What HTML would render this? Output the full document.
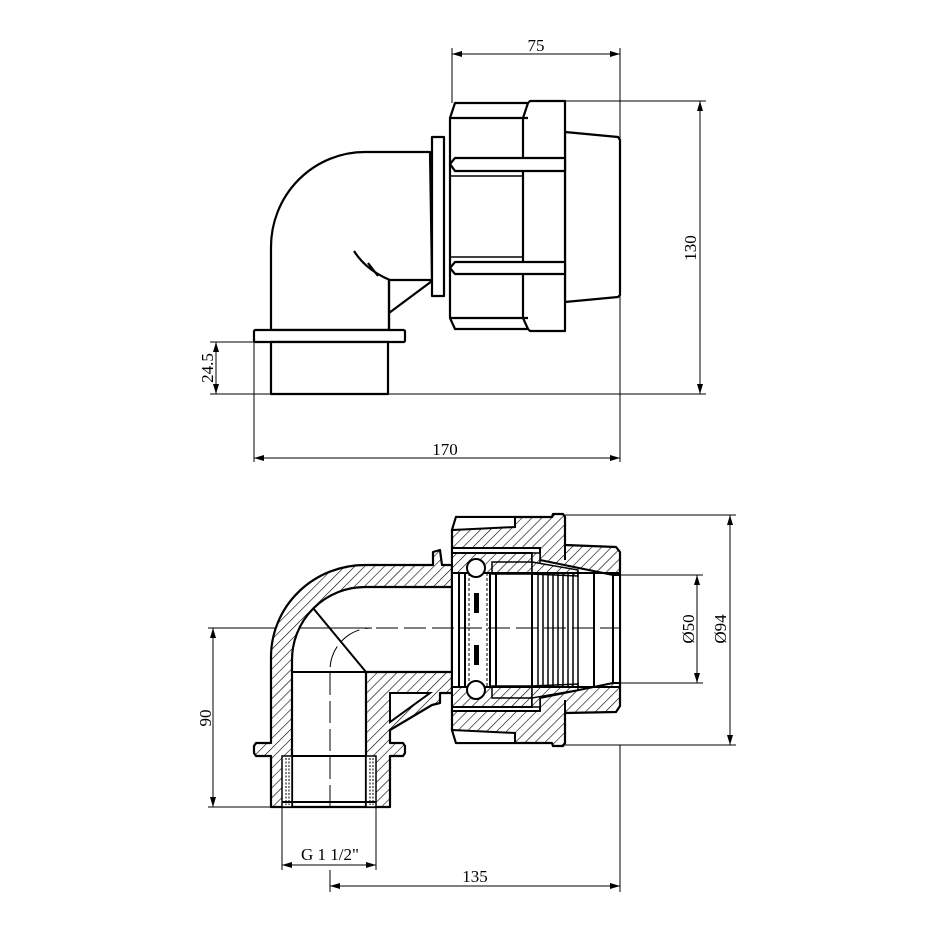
<!DOCTYPE html>
<html><head><meta charset="utf-8"><style>
html,body{margin:0;padding:0;background:#fff}
svg{display:block}
text{font-family:"Liberation Serif",serif;font-size:17px;fill:#000}
</style></head><body>
<svg width="930" height="930" viewBox="0 0 930 930" xmlns="http://www.w3.org/2000/svg">
<defs>
<pattern id="h" patternUnits="userSpaceOnUse" width="7" height="7" patternTransform="rotate(45)">
<rect width="7" height="7" fill="#fff"/><line x1="0" y1="0" x2="0" y2="7" stroke="#000" stroke-width="1.2"/>
</pattern>
<marker id="a" viewBox="0 0 10 6" refX="10" refY="3" markerWidth="10" markerHeight="6" orient="auto-start-reverse" markerUnits="userSpaceOnUse"><path d="M0,0 L10,3 L0,6 Z" fill="#000"/></marker>
</defs>

<!-- ========== TOP VIEW ========== -->
<g fill="none" stroke="#000" stroke-width="1">
<!-- dims -->
<line x1="452" y1="48" x2="452" y2="103"/><line x1="620" y1="48" x2="620" y2="462"/>
<line x1="452" y1="54" x2="620" y2="54" marker-start="url(#a)" marker-end="url(#a)"/>
<line x1="565" y1="101" x2="706" y2="101"/><line x1="388" y1="394" x2="706" y2="394"/>
<line x1="700" y1="101" x2="700" y2="394" marker-start="url(#a)" marker-end="url(#a)"/>
<line x1="210" y1="342" x2="254" y2="342"/><line x1="210" y1="394" x2="271" y2="394"/>
<line x1="216" y1="342" x2="216" y2="394" marker-start="url(#a)" marker-end="url(#a)"/>
<line x1="254" y1="342" x2="254" y2="462"/>
<line x1="254" y1="458" x2="620" y2="458" marker-start="url(#a)" marker-end="url(#a)"/>
</g>
<text x="536" y="51" text-anchor="middle">75</text>
<text x="445" y="455" text-anchor="middle">170</text>
<text transform="translate(696,248) rotate(-90)" text-anchor="middle">130</text>
<text transform="translate(213,368) rotate(-90)" text-anchor="middle">24.5</text>

<g fill="#fff" stroke="#000" stroke-width="2.2" stroke-linejoin="round">
<path d="M271,330 L271,247 A94,95 0 0 1 365,152 L430,152 L432,280 L389,280 L389,330 Z"/>
<rect x="254" y="330" width="151" height="12" rx="1.5"/>
<rect x="271" y="342" width="117" height="52"/>
<path d="M354,251 Q366,270 390,280 M389,280 L389,330 M389,313 L432,281 M368,263 L378,276"/>
<rect x="432" y="137" width="12" height="159"/>
<path d="M565,132 L618,137 L620,140 L620,295 L618,297 L565,302 Z"/>
<path d="M530,101 L565,101 L565,331 L530,331 L528,329 L455,329 L450,318 L450,118 L455,103 L528,103 Z"/>
<path d="M450,118 L528,118 M450,318 L528,318 M523,118 L523,318 M528,103 L523,118 M528,329 L523,318"/>
<path d="M455,158 L565,158 L565,171 L455,171 L450,164 Z"/>
<path d="M455,262 L565,262 L565,274 L455,274 L450,268 Z"/>
<path d="M450,176 L523,176 M450,257 L523,257" stroke-width="1.5"/>
</g>

<!-- ========== BOTTOM VIEW ========== -->
<g fill="none" stroke="#000" stroke-width="1">
<line x1="565" y1="515" x2="736" y2="515"/><line x1="565" y1="745" x2="736" y2="745"/>
<line x1="730" y1="515" x2="730" y2="745" marker-start="url(#a)" marker-end="url(#a)"/>
<line x1="610" y1="575" x2="703" y2="575"/><line x1="610" y1="683" x2="703" y2="683"/>
<line x1="697" y1="575" x2="697" y2="683" marker-start="url(#a)" marker-end="url(#a)"/>
<line x1="208" y1="628" x2="365" y2="628"/><line x1="208" y1="807" x2="271" y2="807"/>
<line x1="213" y1="628" x2="213" y2="807" marker-start="url(#a)" marker-end="url(#a)"/>
<line x1="282" y1="807" x2="282" y2="870"/><line x1="376" y1="807" x2="376" y2="870"/>
<line x1="282" y1="865" x2="376" y2="865" marker-start="url(#a)" marker-end="url(#a)"/>
<line x1="330" y1="870" x2="330" y2="892"/><line x1="620" y1="745" x2="620" y2="892"/>
<line x1="330" y1="886" x2="620" y2="886" marker-start="url(#a)" marker-end="url(#a)"/>
</g>
<text x="330" y="860" text-anchor="middle">G 1 1/2"</text>
<text x="475" y="882" text-anchor="middle">135</text>
<text transform="translate(211,718) rotate(-90)" text-anchor="middle">90</text>
<text transform="translate(694,629) rotate(-90)" text-anchor="middle">Ø50</text>
<text transform="translate(726,629) rotate(-90)" text-anchor="middle">Ø94</text>

<!-- elbow body hatched -->
<path fill="url(#h)" fill-rule="evenodd" stroke="#000" stroke-width="2.2" stroke-linejoin="round"
 d="M271,807 L271,756 L256,756 L254,753 L254,746 L256,743 L271,743 L271,657 A94,92 0 0 1 365,565 L433,565 L433,552 L440,550 L442,565 L452,565 L452,693 L440,693 L440,703 L432,705 L390,730 L390,743 L403,743 L405,746 L405,753 L403,756 L390,756 L390,807 Z
 M292,807 L292,660 A73,73 0 0 1 365,587 L452,587 L452,672 L366,672 L366,807 Z"/>
<path d="M390,693 L430,693 L390,722 Z" fill="#fff" stroke="#000" stroke-width="2"/>
<!-- threads -->
<rect x="282" y="756" width="10" height="51" fill="#fff" stroke="#000" stroke-width="1.5"/>
<rect x="366" y="756" width="10" height="51" fill="#fff" stroke="#000" stroke-width="1.5"/>
<path d="M286,758 L286,805 M289,758 L289,805 M370,758 L370,805 M373,758 L373,805" stroke="#000" stroke-width="1" stroke-dasharray="2,1.5"/>
<path d="M292,756 L366,756 M282,802 L376,802" stroke="#000" stroke-width="2"/>
<path d="M313,608 L366,672 M292,672 L366,672" stroke="#000" stroke-width="2" fill="none"/>
<path d="M330,807 L330,670 A42,42 0 0 1 372,628" stroke="#000" stroke-width="1" fill="none" stroke-dasharray="22,6"/>

<!-- nut -->
<path fill="url(#h)" stroke="#000" stroke-width="2.2" stroke-linejoin="round"
 d="M452,530 L456,517 L552,517 L553,514 L563,514 L565,517 L565,545 L616,547 L620,552 L620,706 L616,712 L565,713 L565,743 L563,746 L553,746 L552,743 L456,743 L452,730 Z"/>
<!-- slots -->
<path d="M456,517 L515,517 L515,527 L452,530 Z M452,730 L515,733 L515,743 L456,743 Z" fill="#fff" stroke="#000" stroke-width="2"/>
<!-- bore -->
<path d="M452,548 L540,548 L540,560 L613,575 L620,575 L620,683 L613,683 L540,698 L540,711 L452,711 Z" fill="#fff" stroke="#000" stroke-width="2"/>
<!-- insert hatched -->
<path d="M452,553 L532,553 L532,573 L452,573 Z M452,687 L532,687 L532,707 L452,707 Z" fill="url(#h)" stroke="#000" stroke-width="2"/>
<path d="M532,553 L540,553 L540,573 L532,573 Z M532,687 L540,687 L540,707 L532,707 Z" fill="url(#h)" stroke="#000" stroke-width="1.5"/>
<path d="M492,562 L532,562 L532,574 L492,574 Z M492,686 L532,686 L532,698 L492,698 Z" fill="url(#h)" stroke="#000" stroke-width="1.5"/>
<path d="M532,562 L578,570 L578,576 L532,574 Z M532,686 L578,684 L578,690 L532,698 Z" fill="url(#h)" stroke="#000" stroke-width="1.5"/>
<path d="M565,545 L565,560 M565,700 L565,713" stroke="#000" stroke-width="2"/>
<!-- bore inner lines -->
<g stroke="#000" fill="none">
<path d="M452,573 L620,573 M452,687 L620,687" stroke-width="2"/>
<path d="M459,573 L459,687 M465,573 L465,687 M490,573 L490,687 M496,573 L496,687 M532,573 L532,687" stroke-width="2"/>
<path d="M469,573 L469,687 M487,573 L487,687" stroke-width="1" stroke-dasharray="3,2"/>
<path d="M538,574 L538,686 M543,574 L543,686 M548,574 L548,686 M553,574 L553,686 M558,574 L558,686 M563,574 L563,686 M568,574 L568,686 M573,574 L573,686 M578,574 L578,686" stroke-width="1.5"/>
<path d="M594,573 L594,687 M613,575 L613,683" stroke-width="2"/>
<path d="M320,628 L620,628" stroke-width="1" stroke-dasharray="22,6"/>
</g>
<rect x="474" y="593" width="5" height="20" fill="#000"/>
<rect x="474" y="645" width="5" height="20" fill="#000"/>
<circle cx="476" cy="568" r="9" fill="#fff" stroke="#000" stroke-width="2"/>
<circle cx="476" cy="690" r="9" fill="#fff" stroke="#000" stroke-width="2"/>
</svg>
</body></html>
